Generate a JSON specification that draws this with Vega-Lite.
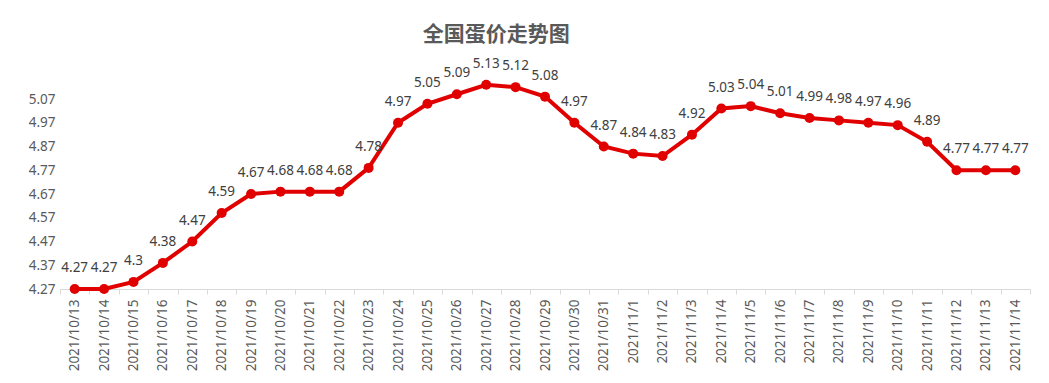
{
  "$schema": "https://vega.github.io/schema/vega-lite/v6.json",
  "autosize": "none",
  "width": 970,
  "height": 209,
  "padding": {"left": 60, "top": 80, "right": 19, "bottom": 94},
  "background": "white",
  "config": {"view": {"stroke": null}, "font": "Noto Sans CJK SC"},
  "title": {
    "text": "全国蛋价走势图",
    "fontSize": 21,
    "fontWeight": "bold",
    "color": "#595959",
    "font": "Noto Sans CJK SC",
    "anchor": "middle",
    "frame": "bounds",
    "dx": -33,
    "offset": 12
  },
  "data": {
    "values": [
      {"date": "2021/10/13", "price": 4.27},
      {"date": "2021/10/14", "price": 4.27},
      {"date": "2021/10/15", "price": 4.3},
      {"date": "2021/10/16", "price": 4.38},
      {"date": "2021/10/17", "price": 4.47},
      {"date": "2021/10/18", "price": 4.59},
      {"date": "2021/10/19", "price": 4.67},
      {"date": "2021/10/20", "price": 4.68},
      {"date": "2021/10/21", "price": 4.68},
      {"date": "2021/10/22", "price": 4.68},
      {"date": "2021/10/23", "price": 4.78},
      {"date": "2021/10/24", "price": 4.97},
      {"date": "2021/10/25", "price": 5.05},
      {"date": "2021/10/26", "price": 5.09},
      {"date": "2021/10/27", "price": 5.13},
      {"date": "2021/10/28", "price": 5.12},
      {"date": "2021/10/29", "price": 5.08},
      {"date": "2021/10/30", "price": 4.97},
      {"date": "2021/10/31", "price": 4.87},
      {"date": "2021/11/1", "price": 4.84},
      {"date": "2021/11/2", "price": 4.83},
      {"date": "2021/11/3", "price": 4.92},
      {"date": "2021/11/4", "price": 5.03},
      {"date": "2021/11/5", "price": 5.04},
      {"date": "2021/11/6", "price": 5.01},
      {"date": "2021/11/7", "price": 4.99},
      {"date": "2021/11/8", "price": 4.98},
      {"date": "2021/11/9", "price": 4.97},
      {"date": "2021/11/10", "price": 4.96},
      {"date": "2021/11/11", "price": 4.89},
      {"date": "2021/11/12", "price": 4.77},
      {"date": "2021/11/13", "price": 4.77},
      {"date": "2021/11/14", "price": 4.77}
    ]
  },
  "encoding": {
    "x": {
      "field": "date",
      "type": "ordinal",
      "sort": null,
      "bandPosition": 0.5,
      "scale": {"type": "band", "paddingInner": 0, "paddingOuter": 0},
      "axis": {
        "title": null,
        "labelAngle": -90,
        "labelFontSize": 13.5,
        "labelColor": "#595959",
        "labelFont": "Noto Sans",
        "labelPadding": 5,
        "tickBand": "extent",
        "tickSize": 5,
        "tickColor": "#d9d9d9",
        "domainColor": "#d9d9d9",
        "domainWidth": 1
      }
    },
    "y": {
      "field": "price",
      "type": "quantitative",
      "scale": {"domain": [4.27, 5.15], "nice": false, "zero": false},
      "axis": {
        "title": null,
        "values": [4.27, 4.37, 4.47, 4.57, 4.67, 4.77, 4.87, 4.97, 5.07],
        "format": ".2f",
        "domain": false,
        "ticks": false,
        "grid": false,
        "labelFontSize": 13.5,
        "labelColor": "#595959",
        "labelFont": "Noto Sans",
        "labelPadding": 5
      }
    }
  },
  "layer": [
    {
      "mark": {"type": "line", "color": "#e00000", "strokeWidth": 4, "clip": false}
    },
    {
      "mark": {"type": "point", "filled": true, "color": "#e00000", "size": 100, "opacity": 1, "clip": false}
    },
    {
      "mark": {"type": "text", "dy": -21, "fontSize": 13.5, "color": "#404040", "font": "Noto Sans", "clip": false},
      "encoding": {"text": {"field": "price", "type": "quantitative"}}
    }
  ]
}
